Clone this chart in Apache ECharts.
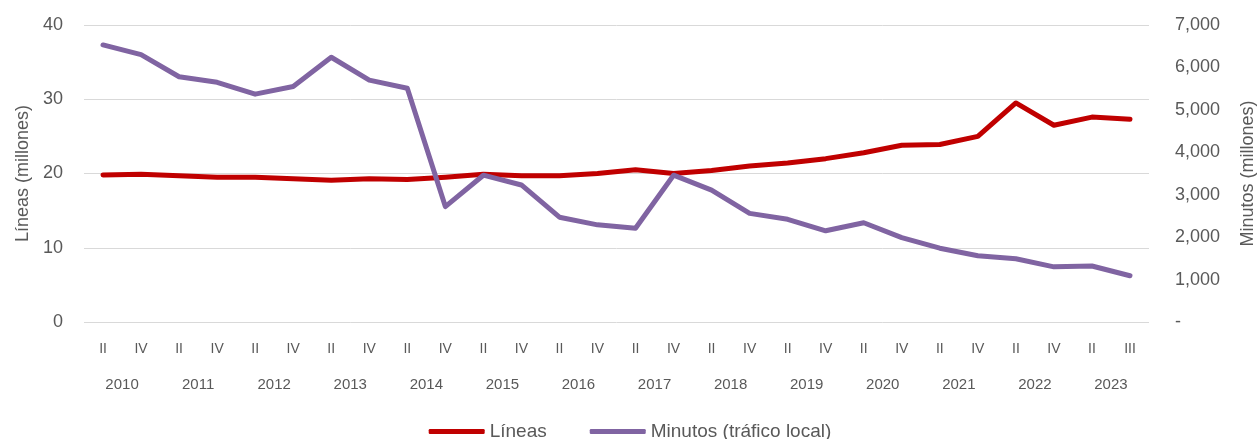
<!DOCTYPE html>
<html>
<head>
<meta charset="utf-8">
<script src="https://cdn.jsdelivr.net/npm/echarts@6/dist/echarts.min.js"></script>
<style>
  html, body { margin: 0; padding: 0; background: #fff; }
  #chart { width: 1260px; height: 439px; }
</style>
</head>
<body>
<div id="chart"></div>
<script>
// quarters, two per year (2023 ends in III)
const quarters = ["II","IV","II","IV","II","IV","II","IV","II","IV","II","IV","II","IV",
  "II","IV","II","IV","II","IV","II","IV","II","IV","II","IV","II","III"];
const years = ["2010","2011","2012","2013","2014","2015","2016","2017","2018","2019","2020","2021","2022","2023"];

// Líneas (millones) - left axis
const lineas = [19.8, 19.9, 19.7, 19.5, 19.5, 19.3, 19.1, 19.3, 19.2, 19.5, 19.9, 19.7, 19.7, 20.0,
  20.5, 20.0, 20.4, 21.0, 21.4, 22.0, 22.8, 23.8, 23.9, 25.0, 29.5, 26.5, 27.6, 27.3];
// Minutos tráfico local (millones) - right axis
const minutos = [6530, 6300, 5780, 5650, 5370, 5550, 6240, 5700, 5510, 2720, 3460, 3230, 2470, 2290,
  2210, 3460, 3110, 2560, 2420, 2150, 2340, 1990, 1740, 1560, 1490, 1300, 1320, 1090];

const txt = "#595959";
const fontFam = "'Liberation Sans', Arial, sans-serif";

let myChart = echarts.init(document.getElementById("chart"));
var option = {
  animation: false,
  textStyle: { fontFamily: fontFam, color: txt },
  grid: { left: 84, right: 111, top: 25, bottom: 117, outerBoundsMode: "none" },
  legend: {
    bottom: -7,
    left: "center",
    itemWidth: 56,
    itemHeight: 5,
    itemGap: 43,
    icon: "roundRect",
    textStyle: { fontSize: 19, color: txt, fontFamily: fontFam },
    data: ["Líneas", "Minutos (tráfico local)"],
  },
  xAxis: [
    {
      type: "category",
      data: quarters,
      position: "bottom",
      axisLine: { show: false },
      axisTick: { show: false },
      axisLabel: { color: txt, fontSize: 14, margin: 20, interval: 0 },
    },
    {
      type: "category",
      data: years,
      position: "bottom",
      axisLine: { show: false },
      axisTick: { show: false },
      axisLabel: { color: txt, fontSize: 15, margin: 55, interval: 0 },
    },
  ],
  yAxis: [
    {
      type: "value",
      min: 0,
      max: 40,
      interval: 10,
      name: "Líneas (millones)",
      nameLocation: "middle",
      nameGap: 52,
      nameTextStyle: { fontSize: 18, color: txt },
      axisLabel: { color: txt, fontSize: 18, margin: 21 },
      splitLine: { lineStyle: { color: "#D9D9D9", width: 1 } },
      axisLine: { show: false },
      axisTick: { show: false },
    },
    {
      type: "value",
      min: 0,
      max: 7000,
      interval: 1000,
      position: "right",
      name: "Minutos (millones)",
      nameLocation: "middle",
      nameGap: 90,
      nameTextStyle: { fontSize: 18, color: txt },
      axisLabel: {
        color: txt,
        fontSize: 18,
        margin: 26,
        formatter: (v) => (v === 0 ? "-" : v.toLocaleString("en-US")),
      },
      splitLine: { show: false },
      axisLine: { show: false },
      axisTick: { show: false },
    },
  ],
  series: [
    {
      name: "Líneas",
      type: "line",
      xAxisIndex: 0,
      yAxisIndex: 0,
      data: lineas,
      symbol: "none",
      lineStyle: { color: "#C00000", width: 5, cap: "round", join: "round" },
      itemStyle: { color: "#C00000" },
    },
    {
      name: "Minutos (tráfico local)",
      type: "line",
      xAxisIndex: 0,
      yAxisIndex: 1,
      data: minutos,
      symbol: "none",
      lineStyle: { color: "#8064A2", width: 5, cap: "round", join: "round" },
      itemStyle: { color: "#8064A2" },
    },
  ],
};
option && myChart.setOption(option);
</script>
</body>
</html>
